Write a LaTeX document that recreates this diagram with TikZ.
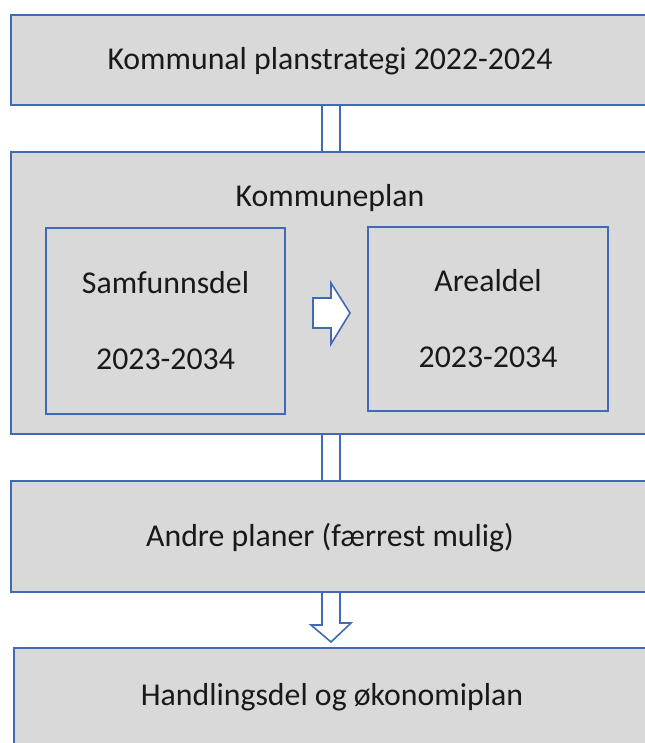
\documentclass[tikz,border=0pt]{standalone}
\usepackage{fontspec}
\setmainfont{Carlito}
\usetikzlibrary{calc}
\definecolor{rammeblaa}{RGB}{66,106,180}
\definecolor{boksgraa}{RGB}{217,217,217}
\tikzset{
  boks/.style={draw=rammeblaa, fill=boksgraa, line width=1pt, rectangle, inner sep=0pt, anchor=west},
  tekst/.style={font=\fontsize{15.9}{19}\selectfont, text=black!90},
  toline/.style={draw=rammeblaa, line width=0.8pt, double=white, double distance=8pt},
  blokkpil/.style={draw=rammeblaa, fill=white, line width=0.8pt, line join=miter}
}
\begin{document}
\begin{tikzpicture}[x=0.5pt, y=-0.5pt]
    \useasboundingbox[fill=white] (0,0) rectangle (644,743);

    % Strategi
    \node[boks, minimum width=345pt, minimum height=45pt] (strategi) at (10,60) {};
    \node[tekst] (strategitekst) at (330,61) {Kommunal planstrategi 2022-2024};

    % Kommuneplan med to deler
    \node[boks, minimum width=345pt, minimum height=141pt] (kplan) at (10,293) {};
    \node[tekst] (kplantittel) at (330,198) {Kommuneplan};
    \node[boks, anchor=center, tekst, align=center, font=\fontsize{15.9}{38}\selectfont, minimum width=119.5pt, minimum height=93pt] (samf) at (165.5,321) {Samfunnsdel\\2023-2034};
    \node[boks, anchor=center, tekst, align=center, font=\fontsize{15.9}{38}\selectfont, minimum width=120pt, minimum height=92pt] (areal) at (488,319) {Arealdel\\2023-2034};

    % Andre planer og handlingsdel
    \node[boks, minimum width=345pt, minimum height=55.5pt] (andre) at (10,536.5) {};
    \node[tekst] (andretekst) at (330,538) {Andre planer (færrest mulig)};
    \node[boks, minimum width=345pt, minimum height=49pt] (handling) at (13,697) {};
    \node[tekst] (handlingtekst) at (332,697) {Handlingsdel og økonomiplan};

    % Koblinger
    \coordinate (midt) at (331,0);
    \draw[toline] (strategi.south -| midt) -- (kplan.north -| midt);
    \draw[toline] (kplan.south -| midt) -- (andre.north -| midt);
    \coordinate (pil) at (331,313);
    \draw[blokkpil] ($(pil)+(-18,-15)$) -- ++(18,0) -- ++(0,-15) -- ($(pil)+(19,0)$)
        -- ++(-19,31) -- ++(0,-16) -- ++(-18,0) -- cycle;
    \draw[blokkpil] ($(andre.south -| midt)+(-9,0)$) -- ++(0,32) -- ++(-11,0)
        -- ($(handling.north -| midt)+(0,-5)$) -- ++(20,-19) -- ++(-11,0)
        -- ($(andre.south -| midt)+(9,0)$);
\end{tikzpicture}
\end{document}
